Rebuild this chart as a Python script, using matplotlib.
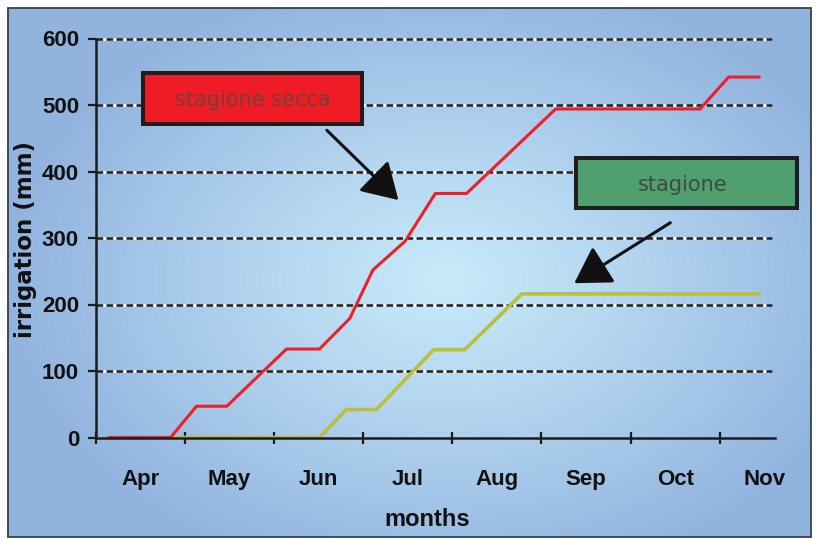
import numpy as np
import matplotlib
matplotlib.use("Agg")
import matplotlib.pyplot as plt
from matplotlib.patches import Rectangle

# --- data (x in months since 1 April) ---
months = ["Apr", "May", "Jun", "Jul", "Aug", "Sep", "Oct", "Nov"]
y_ticks = [0, 100, 200, 300, 400, 500, 600]

dry_x = [0.15, 0.84, 1.13, 1.47, 2.14, 2.51, 2.85, 3.11, 3.47, 3.81, 4.16, 5.16, 6.78, 7.10, 7.44]
dry_y = [0, 0, 47, 47, 133, 133, 179, 252, 295, 367, 367, 494, 494, 542, 542]

season_x = [0.84, 2.51, 2.81, 3.15, 3.79, 4.14, 4.78, 7.44]
season_y = [0, 0, 42, 42, 132, 132, 216, 216]

W, H, DPI = 819, 539, 100
plt.rcParams["lines.scale_dashes"] = False
narrow = ["Liberation Sans", "DejaVu Sans"]

fig = plt.figure(figsize=(W / DPI, H / DPI), dpi=DPI)

# soft blue radial background inside a thin frame
yy, xx = np.mgrid[0:H, 0:W]
d = np.sqrt(((xx - 445) / 440.0) ** 2 + ((yy - 280) / 310.0) ** 2)
t = np.clip(d, 0, 1) ** 1.1
c_in = np.array([200, 234, 250]) / 255.0
c_out = np.array([145, 179, 222]) / 255.0
bg = c_in[None, None, :] * (1 - t[..., None]) + c_out[None, None, :] * t[..., None]
mask = (xx < 8) | (xx > 810) | (yy < 8) | (yy > 536)
bg[mask] = 1.0
fig.figimage(bg, 0, 0, zorder=-10, origin="upper")
fig.patches.append(Rectangle((7.5 / W, 2.5 / H), 803.5 / W, 529 / H, transform=fig.transFigure,
                             fill=False, edgecolor="#3a3f48", linewidth=1.3, zorder=-5))

ax = fig.add_axes([95.7 / W, (H - 437.5) / H, (775 - 95.7) / W, 399.0 / H])
ax.set_facecolor("none")
ax.set_xlim(0, 7.62)
ax.set_ylim(0, 600)

# dashed black-and-white grid
x_grid_end = 7.587
for v in y_ticks[1:]:
    ax.plot([0, x_grid_end], [v, v], color="white", lw=1.9, zorder=1,
            solid_capstyle="butt", clip_on=False)
    ax.plot([0, x_grid_end], [v, v], color="#262626", lw=1.9, zorder=1.1,
            dashes=(4.8, 2.4), dash_capstyle="butt", clip_on=False)

ax.plot(season_x, season_y, color="#b9c03c", lw=2.6, zorder=3, solid_joinstyle="miter")
ax.plot(dry_x, dry_y, color="#f01e28", lw=2.2, zorder=4, solid_joinstyle="miter")

for side in ("top", "right"):
    ax.spines[side].set_visible(False)
for side in ("left", "bottom"):
    ax.spines[side].set_linewidth(1.8)
    ax.spines[side].set_color("#1c1c1c")
    ax.spines[side].set_zorder(5)

ax.set_yticks(y_ticks)
ax.set_yticklabels([str(v) for v in y_ticks], family=narrow, fontweight="bold", fontsize=16)
ax.tick_params(axis="y", direction="out", length=6, width=1.6, color="#1c1c1c", pad=6,
               labelcolor="#111")

ax.set_xticks(np.arange(len(months)))
ax.set_xticklabels([])
ax.set_xticks(np.arange(len(months)) + 0.5, minor=True)
ax.set_xticklabels(months, minor=True, family=narrow, fontweight="bold", fontsize=16)
ax.tick_params(axis="x", which="major", direction="inout", length=9, width=1.6, color="#1c1c1c")
ax.tick_params(axis="x", which="minor", length=0, pad=23, labelcolor="#111")

fig.text(427 / W, (H - 520) / H, "months", family=narrow, fontweight="bold", fontsize=17,
         ha="center", va="center", color="#111")
fig.text(26 / W, (H - 239) / H, "irrigation (mm)", fontweight="bold", fontsize=16.5,
         rotation=90, ha="center", va="center", color="#111")

# labelled boxes with arrows
ax.add_patch(Rectangle((0.534, 471.4), 2.45, 76.3, facecolor="#ee1c24", edgecolor="#1e1e1e",
                       lw=2.9, zorder=6, clip_on=False))
ax.text(1.76, 507, "stagione secca", fontsize=15, color="#73413a", ha="center", va="center",
        zorder=7, clip_on=False)
ax.add_patch(Rectangle((5.39, 344.7), 2.48, 75.1, facecolor="#4fa06e", edgecolor="#1e1e1e",
                       lw=2.9, zorder=6, clip_on=False))
ax.text(6.58, 380, "stagione", fontsize=15, color="#3e4b45", ha="center", va="center",
        zorder=7, clip_on=False)

arrow_kw = dict(arrowstyle="-|>,head_length=1.0,head_width=0.6", color="#111111",
                lw=2.2, mutation_scale=22, shrinkA=0, shrinkB=0)
ax.annotate("", xy=(3.396, 357), xytext=(2.593, 462), arrowprops=arrow_kw,
            annotation_clip=False, zorder=8)
ax.annotate("", xy=(5.368, 232), xytext=(6.446, 323), arrowprops=arrow_kw,
            annotation_clip=False, zorder=8)

fig.savefig("out.png", dpi=DPI)
